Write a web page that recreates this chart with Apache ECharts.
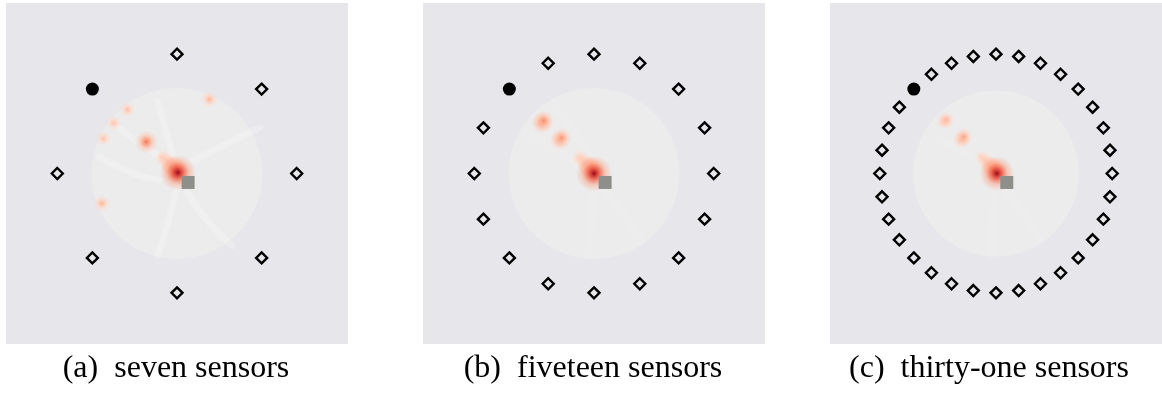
<!DOCTYPE html>
<html>
<head>
<meta charset="utf-8">
<script src="https://cdn.jsdelivr.net/npm/echarts@6/dist/echarts.min.js"></script>
<style>
  html, body { margin: 0; padding: 0; background: #ffffff; }
  #chart { width: 1162px; height: 407px; }
</style>
</head>
<body>
<div id="chart"></div>
<script>
// Panel captions
const captions = ['(a)  seven sensors', '(b)  fiveteen sensors', '(c)  thirty-one sensors'];

// Sensor ring radius (domain radius = 1) and sensor bearings in degrees
const sensorRing = 1.4;
const sourceAngles = [135];
const anglesA = [90, 45, 0, -45, -90, -135, 180];
const anglesB = [90, 67.5, 45, 22.5, 0, -22.5, -45, -67.5, -90, -112.5, -135, -157.5, 180, 157.5, 112.5];
const anglesC = [90, 78.75, 67.5, 56.25, 45, 33.75, 22.5, 11.25, 0,
  -11.25, -22.5, -33.75, -45, -56.25, -67.5, -78.75, -90, -101.25, -112.5, -123.75,
  -135, -146.25, -157.5, -168.75, 180, 168.75, 157.5, 146.25, 123.75, 112.5, 101.25];

// True target location
const target = [[0.13, -0.105]];

// Imaging domain (centre x, centre y, radius)
const domain = [[0, 0, 1]];

// Reconstructed intensity peaks [x, y, intensity]
const peaksA = [
  [-0.17, 0.19, 0.14], [-0.14, 0.16, 0.18], [-0.11, 0.13, 0.22], [-0.08, 0.1, 0.28], [-0.05, 0.07, 0.38],
  [-0.02, 0.04, 0.55], [0.01, 0.01, 1.0],
  [-0.36, 0.37, 0.48], [0.38, 0.87, 0.2], [-0.58, 0.75, 0.16], [-0.74, 0.59, 0.14],
  [-0.86, 0.41, 0.14], [-0.88, -0.35, 0.2]];
const peaksB = [
  [-0.17, 0.19, 0.13], [-0.14, 0.16, 0.17], [-0.11, 0.13, 0.21], [-0.08, 0.1, 0.27], [-0.05, 0.07, 0.36],
  [-0.02, 0.04, 0.52], [0.0, 0.0, 1.0],
  [-0.4, 0.39, 0.34], [-0.38, 0.42, 0.34], [-0.61, 0.59, 0.38], [-0.59, 0.62, 0.38]];
const peaksC = [
  [-0.17, 0.19, 0.12], [-0.14, 0.16, 0.16], [-0.11, 0.13, 0.2], [-0.08, 0.1, 0.26], [-0.05, 0.07, 0.35],
  [-0.02, 0.04, 0.52], [0.01, 0.0, 1.0],
  [-0.41, 0.4, 0.28], [-0.39, 0.43, 0.28], [-0.62, 0.61, 0.21], [-0.6, 0.63, 0.21]];

// Faint ridges in the reconstructed background
const ridgesA = [
  [[-0.76, 0.6], [-0.43, 0.35], [-0.12, 0.15]],
  [[0.19, 0.15], [0.66, 0.39], [0.97, 0.54]],
  [[0.0, -0.16], [-0.12, -0.63], [-0.23, -0.97]],
  [[0.12, -0.23], [0.42, -0.63], [0.65, -0.85]],
  [[-0.9, 0.19], [-0.51, 0.0], [-0.2, -0.08]],
  [[-0.23, 0.85], [-0.12, 0.47], [-0.05, 0.19]]];
const ridgesB = [
  [[-0.72, 0.42], [-0.4, 0.25], [-0.12, 0.08]],
  [[-0.45, 0.78], [-0.25, 0.5], [-0.05, 0.2]],
  [[0.0, -0.15], [-0.04, -0.6], [-0.06, -0.96]],
  [[0.08, -0.15], [0.35, -0.5], [0.55, -0.8]]];
const ridgesC = [
  [[-0.72, 0.42], [-0.4, 0.25], [-0.12, 0.08]],
  [[0.0, -0.15], [-0.04, -0.6], [-0.06, -0.96]],
  [[0.08, -0.15], [0.35, -0.5], [0.55, -0.8]]];

const panelAngles = [anglesA, anglesB, anglesC];
const panelPeaks = [peaksA, peaksB, peaksC];
const panelRidges = [ridgesA, ridgesB, ridgesC];
const ridgeAlpha = [0.3, 0.2, 0.14];
const panelLeft = [6, 423, 830];
const panelCenter = [176, 593, 989];

function toXY(angles, r) {
  return angles.map(a => [r * Math.cos(a * Math.PI / 180), r * Math.sin(a * Math.PI / 180)]);
}

// Reds-style colour ramp
const ramp = [[0, [254, 229, 217]], [0.25, [252, 170, 140]], [0.5, [247, 115, 84]], [0.75, [218, 42, 38]], [1, [160, 10, 25]]];
function rampColor(v) {
  v = Math.max(0, Math.min(1, v));
  for (let i = 1; i < ramp.length; i++) {
    if (v <= ramp[i][0]) {
      const t = (v - ramp[i - 1][0]) / (ramp[i][0] - ramp[i - 1][0]);
      return ramp[i - 1][1].map((c, k) => Math.round(c + t * (ramp[i][1][k] - c)));
    }
  }
  return ramp[ramp.length - 1][1];
}
const rgba = (c, a) => `rgba(${c[0]},${c[1]},${c[2]},${a})`;

function renderDomain(params, api) {
  const c = api.coord([api.value(0), api.value(1)]);
  const r = api.size([api.value(2), 0])[0];
  return { type: 'circle', shape: { cx: c[0], cy: c[1], r: r }, style: { fill: '#ececec' } };
}

function makeRidgeRenderer(lines, alpha) {
  return function (params, api) {
    const pts = lines[params.dataIndex].map(p => api.coord(p));
    return {
      type: 'polyline', shape: { points: pts, smooth: 0.5 },
      style: { stroke: `rgba(247,247,247,${alpha})`, lineWidth: 7, fill: null, lineCap: 'round',
        shadowBlur: 8, shadowColor: `rgba(247,247,247,${alpha})` }
    };
  };
}

function renderPeak(params, api) {
  const v = api.value(2);
  const c = api.coord([api.value(0), api.value(1)]);
  const r = api.size([0.07 + 0.14 * v, 0])[0];
  const core = rampColor(v);
  const mid = rampColor(v * 0.6);
  const outer = rampColor(v * 0.3);
  return {
    type: 'circle',
    shape: { cx: c[0], cy: c[1], r: r },
    style: {
      fill: {
        type: 'radial', x: 0.5, y: 0.5, r: 0.5,
        colorStops: [
          { offset: 0, color: rgba(core, 1) },
          { offset: 0.3, color: rgba(mid, 0.85) },
          { offset: 0.65, color: rgba(outer, 0.45) },
          { offset: 1, color: rgba(outer, 0) }
        ]
      }
    }
  };
}

const grid = [], xAxis = [], yAxis = [], series = [], graphic = [];
for (let i = 0; i < 3; i++) {
  grid.push({ left: panelLeft[i], top: 3, width: 342, height: 341, show: true,
    backgroundColor: '#e6e6eb', borderWidth: 0 });
  xAxis.push({ gridIndex: i, type: 'value', min: -2, max: 2, show: false });
  yAxis.push({ gridIndex: i, type: 'value', min: -2, max: 2, show: false });
  series.push({
    type: 'custom', xAxisIndex: i, yAxisIndex: i, data: domain, renderItem: renderDomain,
    silent: true, z: 1, clip: false
  });
  series.push({
    type: 'custom', xAxisIndex: i, yAxisIndex: i,
    data: panelRidges[i].map((l, k) => [k]),
    renderItem: makeRidgeRenderer(panelRidges[i], ridgeAlpha[i]),
    silent: true, z: 1.5, clip: false
  });
  series.push({
    type: 'custom', xAxisIndex: i, yAxisIndex: i, data: panelPeaks[i], renderItem: renderPeak,
    silent: true, z: 2, clip: false
  });
  series.push({
    type: 'scatter', xAxisIndex: i, yAxisIndex: i, data: toXY(panelAngles[i], sensorRing),
    symbol: 'diamond', symbolSize: 11, z: 3,
    itemStyle: { color: 'rgba(0,0,0,0)', borderColor: '#000000', borderWidth: 2.4, opacity: 1 }
  });
  series.push({
    type: 'scatter', xAxisIndex: i, yAxisIndex: i, data: toXY(sourceAngles, sensorRing),
    symbol: 'circle', symbolSize: 13, z: 3, itemStyle: { color: '#000000', opacity: 1 }
  });
  series.push({
    type: 'scatter', xAxisIndex: i, yAxisIndex: i, data: target,
    symbol: 'rect', symbolSize: 13, z: 4, itemStyle: { color: '#8e8e8a', opacity: 1 }
  });
  graphic.push({
    type: 'text', x: panelCenter[i], y: 369,
    style: { text: captions[i], font: '32px "Liberation Serif"', fill: '#000',
      textAlign: 'center', textVerticalAlign: 'middle' }
  });
}

const chart = echarts.init(document.getElementById('chart'), null, { renderer: 'canvas' });
chart.setOption({ animation: false, grid, xAxis, yAxis, series, graphic });
</script>
</body>
</html>
